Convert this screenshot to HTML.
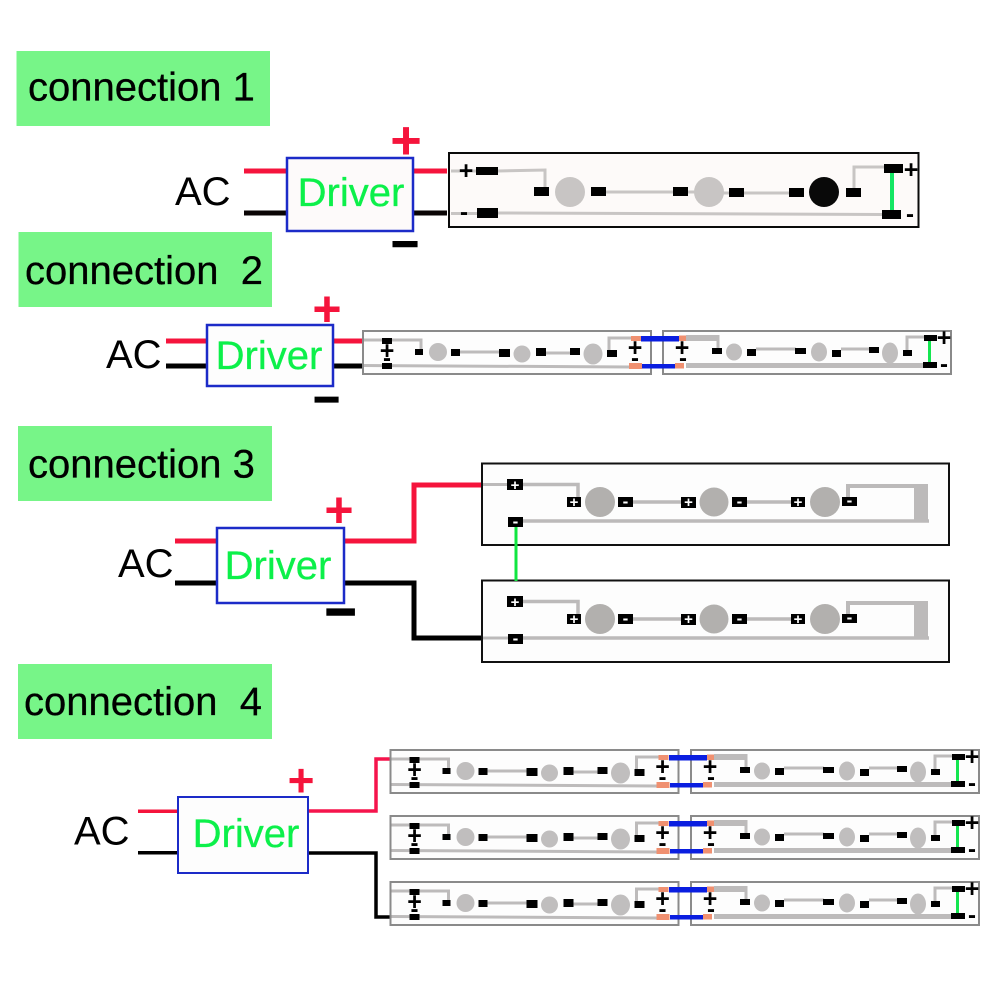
<!DOCTYPE html>
<html>
<head>
<meta charset="utf-8">
<style>
html,body{margin:0;padding:0;background:#fff}
svg{display:block}
text{font-family:"Liberation Sans",sans-serif}
.h{font-size:40px;fill:#000;stroke:#000;stroke-width:.3}
.d{font-size:40px;fill:#0cf04a;text-anchor:middle;stroke:#0cf04a;stroke-width:.3}
.ac{font-size:40px;fill:#000}
.rp{font-weight:bold;fill:#f5143c;text-anchor:middle}
.bm{font-weight:bold;fill:#000;text-anchor:middle}
.p{font-size:25px;font-weight:bold;fill:#000;text-anchor:middle}
.m{font-size:24px;font-weight:bold;fill:#000;text-anchor:middle}
.wp{font-size:15px;font-weight:bold;fill:#fff;text-anchor:middle}
.wm{font-size:17px;font-weight:bold;fill:#fff;text-anchor:middle}
</style>
</head>
<body>
<svg width="1000" height="1000" viewBox="0 0 1000 1000" xmlns="http://www.w3.org/2000/svg">
<defs>
<g id="sl">
  <rect x="363" y="331" width="288" height="43" fill="#fdfdfd" stroke="#8a8a8a" stroke-width="2"/>
  <g fill="none" stroke="#bdbbbb" stroke-width="3">
    <path d="M364 340H421V350"/>
    <path d="M364 365.500L630 367"/>
    <path d="M460 352H500"/>
    <path d="M546 353H571"/>
    <path d="M609 351V338H632"/>
  </g>
  <g fill="#c0bebe">
    <circle cx="438" cy="352" r="9"/>
    <circle cx="522" cy="354" r="8.500"/>
    <ellipse cx="593" cy="354" rx="9.500" ry="10.500"/>
  </g>
  <g fill="#000">
    <rect x="382" y="338" width="10" height="6"/>
    <rect x="382" y="363" width="10" height="6"/>
    <rect x="415" y="349" width="8" height="6"/>
    <rect x="451" y="349" width="9" height="7"/>
    <rect x="499" y="349" width="11" height="8"/>
    <rect x="536" y="348" width="10" height="8"/>
    <rect x="570" y="348" width="10" height="7"/>
    <rect x="607" y="350" width="10" height="7"/>
  </g>
  <rect x="631" y="336" width="10" height="5" fill="#f09070"/>
  <rect x="629" y="363" width="13" height="6" fill="#f09070"/>
</g>
<g id="sr">
  <rect x="663" y="331" width="288" height="43" fill="#fdfdfd" stroke="#8a8a8a" stroke-width="2"/>
  <rect x="686" y="335" width="33" height="6" fill="#bdbbbb"/>
  <rect x="716.500" y="335" width="3" height="14" fill="#bdbbbb"/>
  <rect x="686" y="363" width="238" height="5" fill="#bdbbbb"/>
  <g fill="none" stroke="#bdbbbb" stroke-width="3">
    <path d="M756 349H796"/>
    <path d="M841 349H870"/>
    <path d="M907 351V337H925"/>
  </g>
  <g fill="#c0bebe">
    <ellipse cx="734" cy="352" rx="8" ry="8.500"/>
    <ellipse cx="819" cy="352" rx="8" ry="9.500"/>
    <ellipse cx="890" cy="353" rx="8" ry="10.500"/>
  </g>
  <rect x="928" y="341" width="3" height="22" fill="#14e650"/>
  <g fill="#000">
    <rect x="712" y="348" width="10" height="6"/>
    <rect x="747" y="349" width="9" height="7"/>
    <rect x="795" y="348" width="11" height="6"/>
    <rect x="832" y="350" width="9" height="7"/>
    <rect x="869" y="347" width="10" height="6"/>
    <rect x="903" y="350" width="9" height="6"/>
    <rect x="924" y="335" width="13" height="6"/>
    <rect x="923" y="362" width="14" height="6"/>
  </g>
  <rect x="679" y="335.500" width="7" height="5.500" fill="#f09070"/>
  <rect x="675" y="363" width="9" height="5.500" fill="#f09070"/>
</g>
<g id="blue">
  <rect x="641" y="336" width="38" height="5.500" fill="#0a1ee0"/>
  <rect x="642" y="364" width="33" height="4.500" fill="#0a1ee0"/>
</g>
<g id="strip3">
  <rect x="482" y="463.500" width="467" height="81.500" fill="#fdfdfd" stroke="#111" stroke-width="2"/>
  <g fill="none" stroke="#bcbaba" stroke-width="3.500">
    <path d="M523 484.500H578V497"/>
    <path d="M523 521H929"/>
    <path d="M633 502H681"/>
    <path d="M747 502H791"/>
  </g>
  <rect x="846" y="484" width="82" height="4" fill="#bcbaba"/>
  <rect x="846" y="484" width="4" height="14" fill="#bcbaba"/>
  <rect x="914" y="484" width="14" height="37" fill="#bcbaba"/>
  <g fill="#b2b0ae">
    <circle cx="600" cy="502" r="15"/>
    <circle cx="714" cy="502" r="14.500"/>
    <circle cx="825" cy="502" r="15"/>
  </g>
  <g fill="#000">
    <rect x="507" y="479" width="16" height="11"/>
    <rect x="508" y="517" width="15" height="10"/>
    <rect x="567" y="497" width="14" height="10"/>
    <rect x="618" y="497" width="15" height="10"/>
    <rect x="681" y="497" width="15" height="11"/>
    <rect x="732" y="497" width="15" height="10"/>
    <rect x="791" y="497" width="14" height="10"/>
    <rect x="842" y="497" width="15" height="9"/>
  </g>
</g>
</defs>

<rect width="1000" height="1000" fill="#fff"/>

<!-- headers -->
<rect x="16.500" y="51" width="253.500" height="75" fill="#77f588"/>
<text class="h" x="28" y="100.500">connection 1</text>
<rect x="18.500" y="232" width="253.500" height="75" fill="#77f588"/>
<text class="h" x="25" y="284" xml:space="preserve">connection  2</text>
<rect x="18" y="426" width="254" height="75" fill="#77f588"/>
<text class="h" x="28" y="477.500">connection 3</text>
<rect x="18" y="664" width="254" height="75" fill="#77f588"/>
<text class="h" x="24" y="715" xml:space="preserve">connection  4</text>

<!-- connection 1 -->
<rect x="244" y="168.500" width="44" height="5" fill="#f5143c"/>
<rect x="412" y="168.500" width="35" height="5" fill="#f5143c"/>
<rect x="244" y="210.500" width="44" height="5" fill="#0a0505"/>
<rect x="412" y="210.500" width="35" height="5" fill="#0a0505"/>
<rect x="287" y="158" width="126" height="73" fill="#fdfafa" stroke="#1c2bc8" stroke-width="2.500"/>
<text class="d" x="351" y="206">Driver</text>
<text class="ac" x="175" y="205">AC</text>
<text class="rp" x="406" y="158.500" font-size="54">+</text>
<text class="bm" x="405" y="260" font-size="48" stroke="#000" stroke-width="1">−</text>
<rect x="449" y="153" width="469.500" height="74" fill="#fdfaf9" stroke="#0a0a0a" stroke-width="2"/>
<g fill="none" stroke="#c8c5c4" stroke-width="3">
  <path d="M451 171H476"/>
  <path d="M451 213.500H477"/>
  <path d="M498 171L545 170V188"/>
  <path d="M498 213L882 214.500"/>
  <path d="M606 192H673"/>
  <path d="M688 192H695"/>
  <path d="M722 193H789"/>
  <path d="M854 188V167H885"/>
</g>
<circle cx="570" cy="192" r="15" fill="#c8c5c4"/>
<circle cx="709" cy="192" r="15" fill="#c8c5c4"/>
<circle cx="824" cy="192" r="15" fill="#090909"/>
<rect x="890" y="173" width="4" height="37" fill="#14e664"/>
<g fill="#000">
  <rect x="476" y="167" width="22" height="8"/>
  <rect x="477" y="208" width="21" height="10"/>
  <rect x="534" y="187" width="15" height="9"/>
  <rect x="591" y="187" width="15" height="9"/>
  <rect x="673" y="187" width="15" height="9"/>
  <rect x="729" y="188" width="15" height="9"/>
  <rect x="789" y="188" width="15" height="9"/>
  <rect x="846" y="188" width="15" height="9"/>
  <rect x="884" y="164" width="19" height="9"/>
  <rect x="882" y="210" width="19" height="9"/>
</g>
<text class="p" x="466" y="179">+</text>
<text class="m" x="464" y="220">-</text>
<text class="p" x="911" y="178">+</text>
<text class="m" x="910" y="222">-</text>

<!-- connection 2 -->
<rect x="166" y="338.500" width="42" height="5" fill="#f5143c"/>
<rect x="332" y="338.500" width="31" height="5" fill="#f5143c"/>
<rect x="166" y="363.500" width="42" height="5" fill="#000"/>
<rect x="332" y="363.500" width="31" height="5" fill="#000"/>
<rect x="207" y="325" width="126" height="61" fill="#fdfdfd" stroke="#1c2bc8" stroke-width="2.500"/>
<text class="d" x="269" y="369">Driver</text>
<text class="ac" x="106" y="368">AC</text>
<text class="rp" x="327" y="326" font-size="50">+</text>
<text class="bm" x="326.500" y="415" font-size="46" stroke="#000" stroke-width="1">−</text>
<use href="#sl"/><use href="#sr"/><use href="#blue"/>
<text class="p" x="387" y="359">+</text><text class="m" x="387" y="366">-</text>
<text class="p" x="635" y="356">+</text><text class="m" x="635" y="366">-</text>
<text class="p" x="682" y="356">+</text><text class="m" x="683" y="366">-</text>
<text class="p" x="944" y="346">+</text><text class="m" x="944" y="372">-</text>

<!-- connection 3 -->
<rect x="175" y="538.500" width="43" height="5" fill="#f5143c"/>
<path d="M344 541H414V485H482" fill="none" stroke="#f5143c" stroke-width="5"/>
<rect x="175" y="580.500" width="43" height="5" fill="#000"/>
<path d="M344 583H414V638H482" fill="none" stroke="#000" stroke-width="5"/>
<rect x="217" y="528" width="127" height="75" fill="#fff" stroke="#1c2bc8" stroke-width="2.500"/>
<text class="d" x="278" y="579">Driver</text>
<text class="ac" x="118" y="577">AC</text>
<text class="rp" x="339" y="527" font-size="50">+</text>
<text class="bm" x="340.500" y="630" font-size="54" stroke="#000" stroke-width="1.500">−</text>

<use href="#strip3"/>
<use href="#strip3" y="117"/>
<rect x="483" y="483" width="24" height="3" fill="#bcbaba"/>
<rect x="483" y="636.500" width="25" height="3" fill="#bcbaba"/>
<rect x="514.500" y="527" width="3" height="54" fill="#10e640"/>
<g>
  <text class="wp" x="515" y="490">+</text><text class="wm" x="515.500" y="527">-</text>
  <text class="wp" x="574" y="507">+</text><text class="wm" x="625.500" y="507">-</text>
  <text class="wp" x="688.500" y="507">+</text><text class="wm" x="739.500" y="507">-</text>
  <text class="wp" x="798" y="507">+</text><text class="wm" x="849.500" y="506">-</text>
</g>
<g transform="translate(0,117)">
  <text class="wp" x="515" y="490">+</text><text class="wm" x="515.500" y="527">-</text>
  <text class="wp" x="574" y="507">+</text><text class="wm" x="625.500" y="507">-</text>
  <text class="wp" x="688.500" y="507">+</text><text class="wm" x="739.500" y="507">-</text>
  <text class="wp" x="798" y="507">+</text><text class="wm" x="849.500" y="506">-</text>
</g>

<!-- connection 4 -->
<rect x="138" y="809.500" width="41" height="3.500" fill="#f5143c"/>
<path d="M307 811H376V759H390" fill="none" stroke="#f5144c" stroke-width="3.500"/>
<rect x="138" y="851" width="41" height="3.500" fill="#000"/>
<path d="M307 853H376V917H390" fill="none" stroke="#000" stroke-width="3.500"/>
<rect x="178" y="797" width="130" height="76" fill="#fdfdfd" stroke="#1c2bc8" stroke-width="2"/>
<text class="d" x="246" y="847">Driver</text>
<text class="ac" x="74" y="844.500">AC</text>
<text class="rp" x="301" y="796" font-size="46">+</text>

<g transform="translate(27.500,419)">
  <use href="#sl"/>
  <text class="p" x="387" y="359">+</text><text class="m" x="387" y="366">-</text>
  <text class="p" x="635" y="356">+</text><text class="m" x="635" y="366">-</text>
</g>
<g transform="translate(28,419)">
  <use href="#sr"/>
  <use href="#blue"/>
  <text class="p" x="682" y="356">+</text><text class="m" x="683" y="366">-</text>
  <text class="p" x="944" y="346">+</text><text class="m" x="944" y="372">-</text>
</g>
<g transform="translate(27.500,485)">
  <use href="#sl"/>
  <text class="p" x="387" y="359">+</text><text class="m" x="387" y="366">-</text>
  <text class="p" x="635" y="356">+</text><text class="m" x="635" y="366">-</text>
</g>
<g transform="translate(28,485)">
  <use href="#sr"/>
  <use href="#blue"/>
  <text class="p" x="682" y="356">+</text><text class="m" x="683" y="366">-</text>
  <text class="p" x="944" y="346">+</text><text class="m" x="944" y="372">-</text>
</g>
<g transform="translate(27.500,551)">
  <use href="#sl"/>
  <text class="p" x="387" y="359">+</text><text class="m" x="387" y="366">-</text>
  <text class="p" x="635" y="356">+</text><text class="m" x="635" y="366">-</text>
</g>
<g transform="translate(28,551)">
  <use href="#sr"/>
  <use href="#blue"/>
  <text class="p" x="682" y="356">+</text><text class="m" x="683" y="366">-</text>
  <text class="p" x="944" y="346">+</text><text class="m" x="944" y="372">-</text>
</g>
</svg>
</body>
</html>
